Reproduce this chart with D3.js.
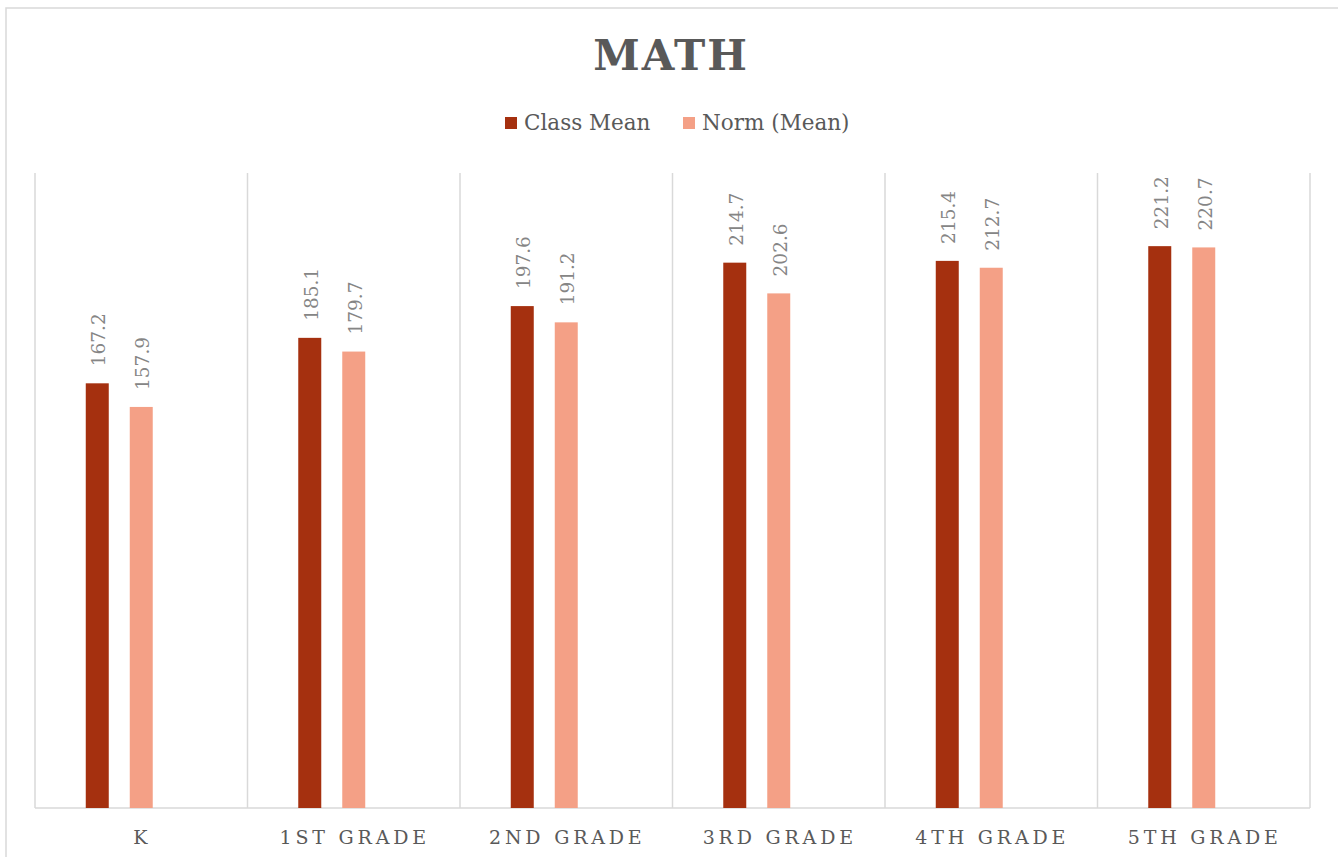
<!DOCTYPE html>
<html>
<head>
<meta charset="utf-8">
<script src="https://cdn.jsdelivr.net/npm/d3@7"></script>
<style>
html,body{margin:0;padding:0;background:#fff;}
svg{display:block;}
</style>
</head>
<body>
<svg id="chart" width="1338" height="857"></svg>
<script>
const categories = ["K","1ST GRADE","2ND GRADE","3RD GRADE","4TH GRADE","5TH GRADE"];
const seriesNames = ["Class Mean","Norm (Mean)"];
const classMean = [167.2,185.1,197.6,214.7,215.4,221.2];
const normMean = [157.9,179.7,191.2,202.6,212.7,220.7];
const seriesColors = ["#A5300F","#F4A086"];
const yMax = 250;

const svg = d3.select("#chart");
const W = 1338, H = 857;
const font = "'DejaVu Serif', serif";

// outer chart border
svg.append("rect").attr("x",6).attr("y",8).attr("width",W+20).attr("height",H+20)
  .attr("fill","#fff").attr("stroke","#d9d9d9").attr("stroke-width",1.5);

const plot = {left:35,right:1310,top:173,bottom:808};

const x = d3.scaleBand().domain(categories).range([plot.left,plot.right]).padding(0);
const xi = d3.scaleBand().domain([0,1,2]).range([0,x.bandwidth()]).paddingInner(21/44).paddingOuter(1.154);
const y = d3.scaleLinear().domain([0,yMax]).range([plot.bottom,plot.top]);

// vertical gridlines (category separators)
const gridX = categories.map(c=>x(c)).concat([plot.right]);
svg.append("g").selectAll("line").data(gridX).join("line")
  .attr("x1",d=>d).attr("x2",d=>d).attr("y1",plot.top).attr("y2",plot.bottom)
  .attr("stroke","#d9d9d9").attr("stroke-width",1.5);
svg.append("line").attr("x1",plot.left).attr("x2",plot.right).attr("y1",plot.bottom).attr("y2",plot.bottom)
  .attr("stroke","#d9d9d9").attr("stroke-width",1.5);

const data = [classMean, normMean];
data.forEach((vals,si)=>{
  const g = svg.append("g");
  g.selectAll("rect").data(vals).join("rect")
    .attr("x",(d,i)=>x(categories[i])+xi(si))
    .attr("width",xi.bandwidth())
    .attr("y",d=>y(d))
    .attr("height",d=>y(0)-y(d))
    .attr("fill",seriesColors[si]);
  g.selectAll("text").data(vals).join("text")
    .attr("transform",(d,i)=>`translate(${x(categories[i])+xi(si)+xi.bandwidth()/2+1.5},${y(d)-17}) rotate(-90)`)
    .attr("dominant-baseline","central")
    .attr("font-family",font).attr("font-size",18.5).attr("fill","#858585")
    .text(d=>d.toFixed(1));
});

// x axis labels
svg.append("g").selectAll("text").data(categories).join("text")
  .attr("x",d=>x(d)+x.bandwidth()/2+1).attr("y",844)
  .attr("text-anchor","middle")
  .attr("font-family",font).attr("font-size",19).attr("letter-spacing","3.8px")
  .attr("fill","#595959").text(d=>d);

// title
svg.append("text").attr("x",671).attr("y",70).attr("text-anchor","middle")
  .attr("font-family",font).attr("font-weight","bold").attr("font-size",42)
  .attr("letter-spacing","2px").attr("fill","#595959").text("MATH");

// legend
const legendX = [505,683];
const lg = svg.append("g");
seriesNames.forEach((n,i)=>{
  lg.append("rect").attr("x",legendX[i]).attr("y",117).attr("width",12).attr("height",12).attr("fill",seriesColors[i]);
  lg.append("text").attr("x",legendX[i]+19).attr("y",130)
    .attr("font-family",font).attr("font-size",21.5).attr("fill","#595959").text(n);
});
</script>
</body>
</html>
